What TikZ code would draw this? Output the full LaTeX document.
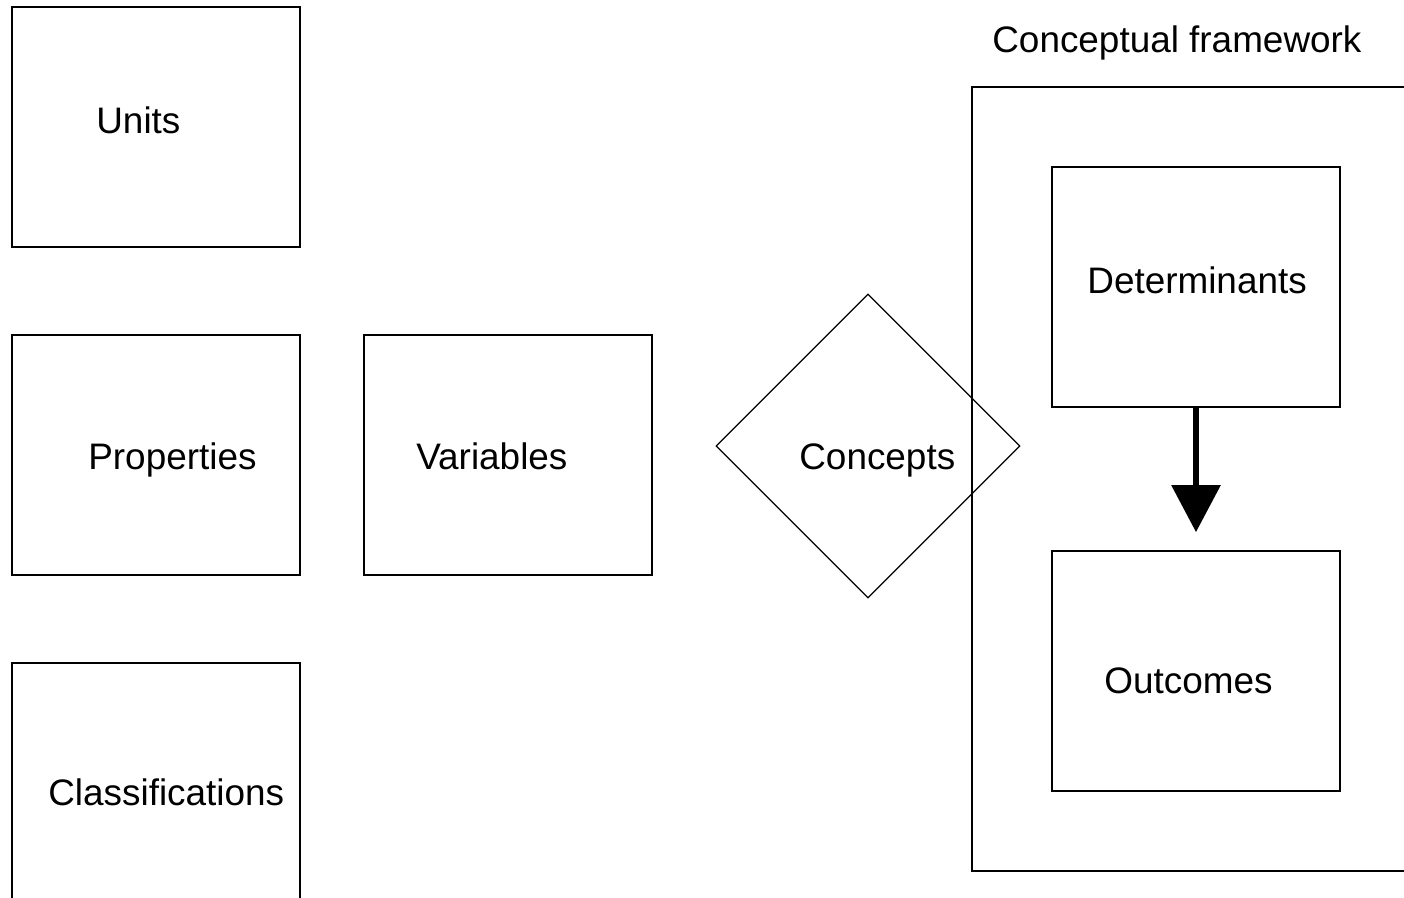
\documentclass[tikz,border=0pt]{standalone}
\usepackage{fontspec}
\setmainfont{Liberation Sans}
\usetikzlibrary{shapes.geometric,arrows.meta}

\tikzset{
	box/.style={draw, line width=1pt, minimum width=5.76cm, minimum height=4.8cm, inner sep=0pt},
	lbl/.style={anchor=base west, inner sep=0pt, font=\fontsize{21}{25}\selectfont},
}

\begin{document}
\begin{tikzpicture}[x=0.02cm, y=-0.02cm]
			%%%%% START %%%%%
			
			\useasboundingbox (0,0) rectangle (1404,898);
			\clip (0,0) rectangle (1404,898);
			
			\node[box] (units) at (156,127) {};
			\node[box] (props) at (156,455) {};
			\node[box] (class) at (156,783) {};
			\node[box] (vars) at (508,455) {};
			
			\node[lbl] (unitstxt) at (96,134) {Units};
			\node[lbl] (propstxt) at (88,470) {Properties};
			\node[lbl] (classtxt) at (48,805) {Classifications};
			\node[lbl] (varstxt) at (416,470) {Variables};
			
			\node[diamond, draw, line width=0.7pt, minimum width=6.08cm, minimum height=6.08cm, inner sep=0pt] (concepts) at (868,446) {};
			\node[lbl] (conceptstxt) at (799,470) {Concepts};
			
			\node[draw, line width=1pt, minimum width=8.96cm, minimum height=15.68cm, inner sep=0pt] (frame) at (1196,479) {};
			\node[lbl] (frametxt) at (992,53) {Conceptual framework};
			
			\node[box] (det) at (1196,287) {};
			\node[box] (out) at (1196,671) {};
			\node[lbl] (dettxt) at (1087,294) {Determinants};
			\node[lbl] (outtxt) at (1104,693) {Outcomes};
			
			\draw[line width=3.4pt, -{Triangle[width=0.96cm,length=0.94cm]}, shorten >=0.36cm] (det.south) -- (out.north);
			
			%%%%% END %%%%%
\end{tikzpicture}
\end{document}
